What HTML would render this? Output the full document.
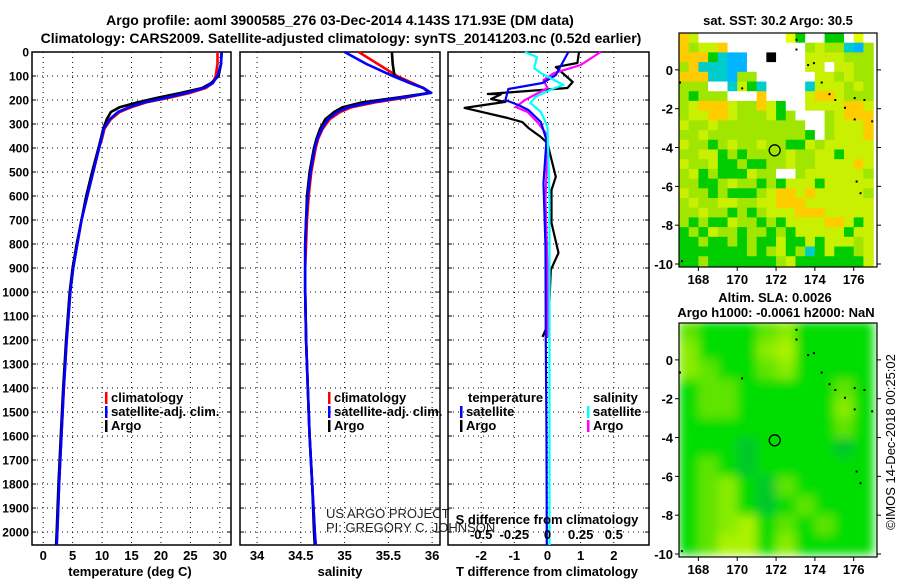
<!DOCTYPE html>
<html><head><meta charset="utf-8">
<style>
html,body{margin:0;padding:0;background:#fff;}
svg{display:block;font-family:"Liberation Sans",sans-serif;}
.b{font-weight:bold;}
</style></head>
<body>
<svg id="fig" width="900" height="580" viewBox="0 0 900 580" xmlns="http://www.w3.org/2000/svg">
<text x="340" y="25" text-anchor="middle" class="b" font-size="14">Argo profile: aoml 3900585_276 03-Dec-2014 4.143S 171.93E (DM data)</text>
<text x="341" y="43" text-anchor="middle" class="b" font-size="14">Climatology: CARS2009. Satellite-adjusted climatology: synTS_20141203.nc (0.52d earlier)</text>
<g id="g"></g>
</svg>
<script>
// ---------- data ----------
const depth = [0,50,100,130,150,170,190,210,230,250,280,320,360,400,500,600,700,800,900,1000,1200,1400,1600,1800,2000,2054];
const tArgo = [30.3,30.2,29.8,28.5,27,23.5,19.5,16,13,11.5,10.8,10.2,9.8,9.4,8.3,7.3,6.5,5.7,5.0,4.5,3.9,3.4,3.0,2.6,2.3,2.2];
const tClim = [29.6,29.6,29.3,28.8,27.6,25,21.5,17.5,15,13,11.5,10.4,10,9.5,8.5,7.5,6.5,5.8,5.1,4.6,4.0,3.5,3.1,2.7,2.4,2.3];
const tSat  = [30.3,30.2,29.6,28.8,27.3,24.5,21,17.2,14.6,12.7,11.3,10.3,9.9,9.5,8.5,7.5,6.5,5.8,5.1,4.6,4.0,3.5,3.1,2.7,2.4,2.3];
const sArgo = [35.54,35.55,35.57,35.75,35.9,35.98,35.6,35.2,34.98,34.88,34.78,34.72,34.68,34.65,34.6,34.57,34.56,34.55,34.55,34.55,34.56,34.58,34.6,34.63,34.65,34.66];
const sClim = [35.16,35.38,35.6,35.78,35.9,35.96,35.7,35.35,35.08,34.95,34.83,34.75,34.7,34.67,34.62,34.59,34.57,34.56,34.55,34.55,34.56,34.58,34.6,34.63,34.66,34.67];
const sSat  = [35.0,35.25,35.55,35.75,35.9,35.99,35.65,35.3,35.04,34.92,34.81,34.74,34.69,34.66,34.61,34.58,34.56,34.55,34.55,34.55,34.56,34.58,34.6,34.63,34.66,34.67];
const dTArgoDepth = [0,46,63,125,150,175,176,196,208,233,275,292,317,354,380,437,520,575,712,837,908,1129,1187];
const dTArgo = [0.95,0.9,0.25,0.76,0.6,-1.8,-1.4,-1.7,-1.27,-2.5,-1.2,-0.76,-0.57,-0.2,0,0.1,0.25,0.12,0.12,0.33,0.1,0.03,-0.15];
const dTSatDepth = [0,96,129,154,200,221,242,292,367,546,812,1200,1600,2054];
const dTSat = [0.63,0.25,-0.15,-1.18,-1.27,-0.88,-0.57,-0.2,-0.03,-0.12,-0.06,-0.05,-0.03,-0.02];
const dSArgoDepth = [0,54,88,117,150,200,229,250,296,337,396,617,900,1190];
const dSArgo = [0.4,0.25,0.05,-0.03,0,-0.17,-0.24,-0.15,-0.07,-0.015,0,-0.015,0,0];
const dSSatDepth = [0,21,67,88,137,158,187,212,250,312,600,1000,1500,2054];
const dSSat = [-0.17,-0.08,-0.1,-0.05,0.12,0.02,-0.09,-0.13,-0.05,0,0.015,0.015,0.015,0.015];
const depthTicks = [0,100,200,300,400,500,600,700,800,900,1000,1100,1200,1300,1400,1500,1600,1700,1800,1900,2000];
const tTicks = [0,5,10,15,20,25,30];
const sTicks = [34,34.5,35,35.5,36];
const dtTicks = [-2,-1,0,1,2];
const dsTicks = [-0.5,-0.25,0,0.25,0.5];
const dsTickLabels = ['-0.5','-0.25','0','0.25','0.5'];
const lonTicks = [168,170,172,174,176];
const latTicks = [0,-2,-4,-6,-8,-10];
const argoLon = 171.93, argoLat = -4.143;
// SST grid: rows from lat 1.9 down (0.5 deg), cols from lon 167 (0.5 deg)
const sstGrid = [
"oywwwwwwwwwYGwwGGwYw","ogyyowwwwwwwwgyggcbg","oooGcbbwwkwwwyyyyggg","gocccbbwwwwwwyywyygg",
"oooccbggwwwwwwyygygg","gggwwcyGcwwwwcyyygyg","gGgggwwwowwwwyooyggg","gyoooyggoyGwwyyyyooy",
"gyyooygggyGgwwwgyooo","yggygggggggggwwgyyyo","ggyggggggggggGwgyyyo","yggGgyggyggGGygyyyyy",
"ggyyGgGggggyggyyGyyy","yggyGGgGGggyggyyyyoy","gyGgGGGyggwwgyyyyyyg","ggGGgyggGgGyyyGyyyyy",
"yggGgGGGgyooyoyyyyyg","gyggyyggyyoooyyyyyyy","ggyggGgGgyyyoooyyyyy","gGgGGyggGgGyyyyooyGy",
"GgGyggGggGgGyyyyyGyy","GGgGGgGgGGyGGyGyyygy","GGGGGGGgGgyGgcGyGGgy","GGgGGGGGGGgyGGGGGGGy"];
// SLA grid: rows from lat 2 down (1 deg), cols from lon 167 (1 deg)
const slaGrid = ["LGGGLlGGGG","lGGGlYGGGG","lLGGLlGGGG","GLLGGGGGLG","GLLGGGGGlG","GGGGGGGGLG",
"GGGDGGGGDG","GLGDGGGGGG","GLlGDLGGGG","GLlGDGLGGG","GLlYGLGLGG","GLYYGlGGGG"];

const sstCol = {y:'#c8f000',g:'#a0e600',Y:'#e6ff00',o:'#ffcc00',G:'#00cc00',c:'#00cccc',b:'#00b4ff',w:'#ffffff',k:'#000000'};
const slaCol = {G:'#00dd00',L:'#5ee400',l:'#88ec00',Y:'#aaf200',D:'#00c82a'};

// ---------- helpers ----------
const NS='http://www.w3.org/2000/svg';
const root=document.getElementById('g');
function mk(tag,attrs,parent){const e=document.createElementNS(NS,tag);for(const k in attrs)e.setAttribute(k,attrs[k]);(parent||root).appendChild(e);return e;}
function txt(s,x,y,opts,parent){const e=mk('text',Object.assign({x:x,y:y,'font-size':12},opts||{}),parent);e.textContent=s;return e;}

const TOP=52, BOT=545, DMAX=2054;
const yD = d => TOP + (BOT-TOP)*d/DMAX;

function panel(name,x0,x1,xmin,xmax,ticks,labels,showY){
  const xs = v => x0 + (x1-x0)*(v-xmin)/(xmax-xmin);
  const g=mk('g',{});
  
  
  depthTicks.forEach(d=>{
    if(d>0){const l=mk('line',{x1:x0,x2:x1,y1:yD(d),y2:yD(d),stroke:'#000','stroke-width':1,'stroke-dasharray':'1,4'},g);
    
    }
    mk('line',{x1:x0,x2:x0+4,y1:yD(d),y2:yD(d),stroke:'#000'},g);
    mk('line',{x1:x1-4,x2:x1,y1:yD(d),y2:yD(d),stroke:'#000'},g);
    if(showY){const t=txt(String(d),29,yD(d)+4.5,{'text-anchor':'end','font-weight':'bold','font-size':12},g);
      
      }
  });
  ticks.forEach((v,i)=>{
    const l=mk('line',{x1:xs(v),x2:xs(v),y1:TOP,y2:BOT,stroke:'#000','stroke-width':1,'stroke-dasharray':'1,4'},g);
    
    
    if(labels){const t=txt(labels[i],xs(v),560,{'text-anchor':'middle','font-weight':'bold','font-size':13},g);
      
      }
  });
  const r=mk('rect',{x:x0,y:TOP,width:x1-x0,height:BOT-TOP,fill:'none',stroke:'#000','stroke-width':1.5},g);
  
  
  return {xs,g};
}
function line(p,vals,deps,color,name,w){
  const pts=vals.map((v,i)=>p.xs(v).toFixed(1)+','+yD(deps[i]).toFixed(1)).join(' ');
  const e=mk('polyline',{points:pts,fill:'none',stroke:color,'stroke-width':w||2.6,'stroke-linejoin':'round'},p.g);
  
  
}
function legendRow(x,y,color,label,g){
  mk('rect',{x:x,y:y-10,width:2.5,height:12,fill:color},g);
  const t=txt(label,x+6,y,{'font-weight':'bold','font-size':13},g);
  
  
}

// temperature panel
const p1=panel('temperature-panel',32,231,-1.9,31.9,tTicks,tTicks.map(String),true);
line(p1,tClim,depth,'#ff0000','climatology-temp-line');
line(p1,tArgo,depth,'#000000','argo-temp-line');
line(p1,tSat,depth,'#0000ff','satellite-temp-line');
legendRow(105,402,'#ff0000','climatology',p1.g);
legendRow(105,416,'#0000ff','satellite-adj. clim.',p1.g);
legendRow(105,430,'#000000','Argo',p1.g);
let t=txt('temperature (deg C)',130,576,{'text-anchor':'middle','font-weight':'bold','font-size':13},p1.g);



// salinity panel
const p2=panel('salinity-panel',240,440,33.805,36.09,sTicks,sTicks.map(String),false);
line(p2,sClim,depth,'#ff0000','climatology-salinity-line');
line(p2,sArgo,depth,'#000000','argo-salinity-line');
line(p2,sSat,depth,'#0000ff','satellite-salinity-line');
legendRow(328,402,'#ff0000','climatology',p2.g);
legendRow(328,416,'#0000ff','satellite-adj. clim.',p2.g);
legendRow(328,430,'#000000','Argo',p2.g);
t=txt('salinity',340,576,{'text-anchor':'middle','font-weight':'bold','font-size':13},p2.g);


t=txt('US ARGO PROJECT',326,518,{'font-size':13,fill:'#222'},p2.g);


t=txt('PI: GREGORY C. JOHNSON',326,532,{'font-size':13,fill:'#222'},p2.g);



// difference panel
const p3=panel('difference-panel',448,649,-3,3.06,dtTicks,dtTicks.map(String),false);
const sx = v => v*4; // S diff axis scaled to T axis
line(p3,dTArgo,dTArgoDepth,'#000000','argo-temp-diff-line',2.2);
line(p3,dSArgo.map(sx),dSArgoDepth,'#ff00ff','argo-salinity-diff-line',2.2);
line(p3,dTSat,dTSatDepth,'#0000ff','satellite-temp-diff-line',2.2);
line(p3,dSSat.map(sx),dSSatDepth,'#00ffff','satellite-salinity-diff-line',2.2);
t=txt('temperature',468,402,{'font-weight':'bold','font-size':13},p3.g);


t=txt('salinity',593,402,{'font-weight':'bold','font-size':13},p3.g);


legendRow(460,416,'#0000ff','satellite',p3.g);
legendRow(460,430,'#000000','Argo',p3.g);
legendRow(587,416,'#00ffff','satellite',p3.g);
legendRow(587,430,'#ff00ff','Argo',p3.g);
t=txt('S difference from climatology',547,524,{'text-anchor':'middle','font-weight':'bold','font-size':13},p3.g);


dsTicks.forEach((v,i)=>{const e=txt(dsTickLabels[i],p3.xs(sx(v)),539,{'text-anchor':'middle','font-weight':'bold','font-size':13},p3.g);
  
  });
t=txt('T difference from climatology',547,576,{'text-anchor':'middle','font-weight':'bold','font-size':13},p3.g);



// ---------- maps ----------
function map(name,y0,y1,lat0,grid,cellDeg,colors,blur,id){
  const X0=679,X1=877,LON0=167,LON1=177.2;
  const LAT1=lat0 - (y1-y0)/((X1-X0)/(LON1-LON0));
  const px=(X1-X0)/(LON1-LON0);
  const lx=lon=>X0+(lon-LON0)*px, ly=lat=>y0+(lat0-lat)*px;
  const g=mk('g',{});
  
  
  const cp=mk('clipPath',{id:'cp'+id},g);
  mk('rect',{x:X0,y:y0,width:X1-X0,height:y1-y0},cp);
  if(blur){const f=mk('filter',{id:'bl'+id,x:'-5%',y:'-5%',width:'110%',height:'110%'},g);mk('feGaussianBlur',{stdDeviation:5},f);}
  const cells=mk('g',{'clip-path':'url(#cp'+id+')'},g);
  const inner=mk('g',blur?{filter:'url(#bl'+id+')'}:{},cells);
  const topLat = blur?2:1.9;
  grid.forEach((row,r)=>{[...row].forEach((ch,c)=>{
    const e=mk('rect',{x:lx(LON0+c*cellDeg),y:ly(topLat-r*cellDeg),width:cellDeg*px+0.6,height:cellDeg*px+0.6,fill:colors[ch]},inner);
    
    
  });});
  // island specks
  [[173,1.6],[173,1.1],[173.6,0.3],[173.9,0.4],[174.3,-0.6],[174.7,-1.2],[175,-1.5],[175.5,-1.9],[176,-1.4],[176.5,-1.5],[176.9,-2.6],[176.1,-5.7],[176.3,-6.3],[167.1,-9.8],[170.2,-0.9],[167,-0.6],[176,-2.5]].forEach(p=>{
    mk('rect',{x:lx(p[0]),y:ly(p[1]),width:2,height:2,fill:'#000'},cells);
  });
  const c=mk('circle',{cx:lx(argoLon),cy:ly(argoLat),r:5.5,fill:'none',stroke:'#000','stroke-width':1.3},g);
  
  
  const fr=mk('rect',{x:X0,y:y0,width:X1-X0,height:y1-y0,fill:'none',stroke:'#000','stroke-width':1.2},g);
  
  
  lonTicks.forEach(v=>{mk('line',{x1:lx(v),x2:lx(v),y1:y1,y2:y1+4,stroke:'#000'},g);
    const e=txt(String(v),lx(v),y1+17,{'text-anchor':'middle','font-weight':'bold','font-size':13},g);
    
    });
  latTicks.forEach(v=>{mk('line',{x1:X0-4,x2:X0,y1:ly(v),y2:ly(v),stroke:'#000'},g);
    mk('line',{x1:X1,x2:X1+4,y1:ly(v),y2:ly(v),stroke:'#000'},g);
    const e=txt(String(v),673,ly(v)+5,{'text-anchor':'end','font-weight':'bold','font-size':13},g);
    
    });
  return g;
}
map('sst-map',33,267,1.9,sstGrid,0.5,sstCol,false,'a');
map('sla-map',323,557,1.9,slaGrid,1,slaCol,true,'b');
t=txt('sat. SST: 30.2 Argo: 30.5',778,25,{'text-anchor':'middle','font-weight':'bold','font-size':13});


t=txt('Altim. SLA: 0.0026',775,302,{'text-anchor':'middle','font-weight':'bold','font-size':13});


t=txt('Argo h1000: -0.0061 h2000: NaN',776,317,{'text-anchor':'middle','font-weight':'bold','font-size':13});


t=txt('©IMOS 14-Dec-2018 00:25:02',0,0,{'text-anchor':'middle','font-size':13,transform:'translate(895,442) rotate(-90)'});


</script>
</body></html>
